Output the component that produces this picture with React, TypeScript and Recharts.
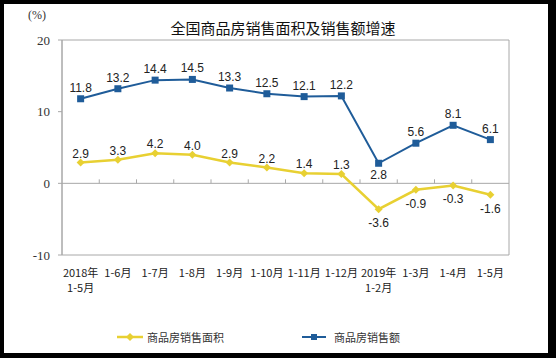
import { LineChart, Line, XAxis, YAxis, ReferenceLine, ReferenceArea, Legend } from 'recharts'

const categories = [
  '2018年\n1-5月', '1-6月', '1-7月', '1-8月', '1-9月', '1-10月',
  '1-11月', '1-12月', '2019年\n1-2月', '1-3月', '1-4月', '1-5月',
]
const areaGrowth = [2.9, 3.3, 4.2, 4.0, 2.9, 2.2, 1.4, 1.3, -3.6, -0.9, -0.3, -1.6]
const salesGrowth = [11.8, 13.2, 14.4, 14.5, 13.3, 12.5, 12.1, 12.2, 2.8, 5.6, 8.1, 6.1]
const yTicks = [-10, 0, 10, 20]

const AREA_NAME = '商品房销售面积'
const SALES_NAME = '商品房销售额'
const YELLOW = '#E8D032'
const BLUE = '#1F5C99'
const GRID = '#A8A8A8'

const data = categories.map((c, i) => ({ name: c, area: areaGrowth[i], sales: salesGrowth[i] }))
const salesMin = Math.min(...salesGrowth)

function CategoryTick({ x, y, payload }: any) {
  const lines = String(payload.value).split('\n')
  return (
    <g>
      {lines.map((l, i) => (
        <text key={i} x={x} y={y + 22 + i * 15} textAnchor="middle" fontSize={11}
          fontFamily="'Noto Sans CJK SC', sans-serif" fill="#222">
          {l}
        </text>
      ))}
    </g>
  )
}

// zero line with the little upward ticks between categories
function ZeroLine(props: any) {
  const { x1, y1, x2, y2 } = props
  const step = (x2 - x1) / categories.length
  return (
    <g>
      <line x1={x1} y1={y1} x2={x2} y2={y2} stroke={GRID} strokeWidth={1} />
      {categories.slice(1).map((_, i) => (
        <line key={i} x1={x1 + step * (i + 1)} x2={x1 + step * (i + 1)} y1={y1 - 4} y2={y1} stroke={GRID} />
      ))}
    </g>
  )
}

function Diamond({ cx, cy, index }: any) {
  if (cx == null || cy == null) return <g key={index} />
  return <path key={index} d={`M${cx},${cy - 4} L${cx + 4},${cy} L${cx},${cy + 4} L${cx - 4},${cy} Z`} fill={YELLOW} />
}

function Square({ cx, cy, index }: any) {
  if (cx == null || cy == null) return <g key={index} />
  return <rect key={index} x={cx - 3.5} y={cy - 3.5} width={7} height={7} fill={BLUE} />
}

function areaLabel({ x, y, value, index }: any) {
  const below = value < 0
  return (
    <text key={index} x={x} y={below ? y + 18 : y - 5} textAnchor="middle" fontSize={12}
      fontFamily="'Liberation Sans', Arial, sans-serif" fill="#222">
      {Number(value).toFixed(1)}
    </text>
  )
}

function salesLabel({ x, y, value, index }: any) {
  const below = value === salesMin
  return (
    <text key={index} x={x} y={below ? y + 16 : y - 7} textAnchor="middle" fontSize={12}
      fontFamily="'Liberation Sans', Arial, sans-serif" fill="#222">
      {Number(value).toFixed(1)}
    </text>
  )
}

function LegendContent() {
  const font = { fontSize: 11, fontFamily: "'Noto Sans CJK SC', sans-serif", color: '#333' }
  return (
    <div style={{ display: 'flex', alignItems: 'center', paddingLeft: 117, ...font }}>
      <svg width={26} height={10}>
        <line x1={0} y1={5} x2={26} y2={5} stroke={YELLOW} strokeWidth={2.5} />
        <path d="M13,1 L17,5 L13,9 L9,5 Z" fill={YELLOW} />
      </svg>
      <span style={{ marginLeft: 4, marginRight: 78 }}>{AREA_NAME}</span>
      <svg width={24} height={10}>
        <line x1={0} y1={5} x2={24} y2={5} stroke={BLUE} strokeWidth={2} />
        <rect x={9} y={2} width={6} height={6} fill={BLUE} />
      </svg>
      <span style={{ marginLeft: 8 }}>{SALES_NAME}</span>
    </div>
  )
}

export default function App() {
  return (
    <div style={{ position: 'relative', width: 556, height: 358, background: '#000', overflow: 'hidden' }}>
      <style>{'body{margin:0}'}</style>
      <div style={{ position: 'absolute', left: 4, top: 4, width: 544, height: 349, background: '#fff' }} />
      <div style={{
        position: 'absolute', left: 0, top: 18, width: 566, textAlign: 'center', fontSize: 15,
        fontFamily: "'Noto Sans CJK SC', sans-serif", color: '#111', lineHeight: '20px',
      }}>
        全国商品房销售面积及销售额增速
      </div>
      <div style={{
        position: 'absolute', left: 28, top: 8, fontSize: 12,
        fontFamily: "'Liberation Serif', serif", color: '#333', lineHeight: '14px',
      }}>
        (%)
      </div>
      <div style={{ position: 'absolute', left: 0, top: 0 }}>
        <LineChart width={556} height={358} data={data}
          margin={{ top: 40, right: 47, left: 12, bottom: 63 }}>
          <XAxis dataKey="name" scale="band" axisLine={false} tickLine={false} tickSize={0} tickMargin={0}
            height={40} interval={0} tick={<CategoryTick />} />
          <YAxis domain={[-10, 20]} ticks={yTicks} width={50} axisLine={{ stroke: GRID }}
            tickLine={{ stroke: GRID }} tickSize={4} tickMargin={8}
            tick={{ fontSize: 13, fontFamily: "'Liberation Serif', serif", fill: '#333' }} />
          <ReferenceArea y1={-10} y2={20} fill="none" stroke={GRID} strokeWidth={1} fillOpacity={0} />
          <ReferenceLine y={0} shape={<ZeroLine />} />
          <Line type="linear" dataKey="area" name={AREA_NAME} stroke={YELLOW} strokeWidth={2.5}
            dot={Diamond} activeDot={false} label={areaLabel} isAnimationActive={false} />
          <Line type="linear" dataKey="sales" name={SALES_NAME} stroke={BLUE} strokeWidth={2}
            dot={Square} activeDot={false} label={salesLabel} isAnimationActive={false} />
          <Legend layout="horizontal" verticalAlign="middle" align="center" content={<LegendContent />}
            wrapperStyle={{ position: 'absolute', top: 329, left: 0, width: 556 }} />
        </LineChart>
      </div>
    </div>
  )
}
